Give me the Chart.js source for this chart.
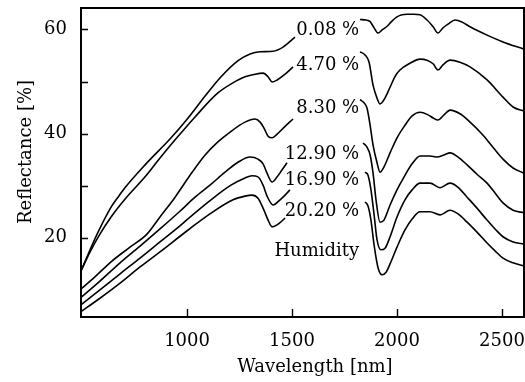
<!DOCTYPE html>
<html>
<head>
<meta charset="utf-8">
<style>
  html, body { margin: 0; padding: 0; background: #fff; }
  #wrap { width: 525px; height: 382px; }
</style>
<script src="https://cdn.jsdelivr.net/npm/chart.js@4.4.0/dist/chart.umd.min.js"></script>
</head>
<body>
<div id="wrap"><canvas id="c" width="525" height="382"></canvas></div>
<script>
// Soil reflectance spectra for six humidity levels.
// Each spectrum is split around the 1500-1820 nm water band (null = gap).
const humidityLevels = ['0.08 %', '4.70 %', '8.30 %', '12.90 %', '16.90 %', '20.20 %'];

const wl_0_08 = [490,538,576,638,671,704,800,924,1005,1086,1162,1243,1300,1348,1410,1457,1514,
  1670,
  1824,1852,1872,1891,1910,1929,1953,1976,2000,2024,2048,2081,2110,2143,2172,2195,2219,2243,2277,2310,2348,2429,2505,2605];
const refl_0_08 = [13.2,17.7,21.1,25.9,27.8,29.6,34.0,39.2,43.0,47.2,50.9,54.0,55.3,55.7,55.8,56.6,58.5,
  null,
  61.9,61.8,61.5,60.3,59.3,59.9,60.6,61.6,62.4,62.8,62.9,62.9,62.8,61.8,60.5,59.3,60.3,61.0,61.8,61.4,60.5,58.9,57.6,56.2];

const wl_4_70 = [490,538,585,638,704,800,871,943,1038,1147,1243,1276,1324,1362,1386,1405,1429,1467,1505,
  1670,
  1824,1848,1867,1886,1905,1919,1938,1967,1991,2014,2062,2110,2143,2172,2195,2219,2253,2300,2348,2429,2505,2553,2605];
const refl_4_70 = [13.2,17.3,20.7,24.0,27.4,31.7,35.3,38.8,43.2,47.8,50.3,50.9,51.4,51.6,50.9,49.9,50.3,51.4,52.8,
  null,
  55.7,55.1,53.7,49.3,46.8,45.7,46.5,48.9,51.0,52.2,53.5,54.3,54.1,53.4,52.2,53.2,54.1,53.7,52.8,50.3,47.0,45.1,44.3];

const wl_8_30 = [490,561,638,728,809,871,943,1014,1086,1147,1205,1276,1324,1348,1367,1386,1405,1429,1467,1505,
  1670,
  1824,1843,1857,1872,1886,1905,1919,1938,1967,2000,2038,2072,2110,2148,2172,2195,2224,2253,2300,2348,2410,2457,2505,2553,2605];
const refl_8_30 = [10.0,12.5,15.4,18.2,20.7,24.0,27.8,32.0,35.9,38.4,40.3,42.2,42.8,42.2,41.0,39.5,39.2,39.9,41.4,42.8,
  null,
  46.5,45.9,44.9,41.6,37.8,34.4,32.6,33.6,36.3,39.2,41.6,43.4,44.1,43.6,43.0,42.6,43.6,44.5,43.8,42.2,39.7,37.4,35.1,33.4,32.4];

const wl_12_90 = [490,585,681,776,871,966,1038,1109,1181,1243,1300,1338,1362,1381,1405,1429,1452,1476,
  1670,
  1838,1857,1872,1886,1900,1919,1938,1967,2000,2038,2072,2110,2157,2191,2224,2253,2291,2334,2381,2429,2467,2505,2553,2605];
const refl_12_90 = [8.4,11.7,15.2,18.4,21.7,25.1,27.8,30.1,32.6,34.5,35.5,35.1,34.2,32.4,30.7,31.7,33.0,34.4,
  null,
  38.2,37.4,35.9,32.4,27.3,23.0,23.4,26.3,29.2,32.0,34.2,35.7,35.7,35.5,35.9,36.3,35.5,34.0,32.2,30.5,28.6,26.7,25.3,24.8];

const wl_16_90 = [490,585,681,776,871,966,1038,1114,1209,1276,1309,1338,1362,1381,1410,1443,1467,1490,
  1670,
  1848,1862,1876,1891,1905,1924,1943,1967,2000,2038,2072,2110,2157,2205,2253,2291,2334,2381,2429,2467,2505,2553,2605];
const refl_16_90 = [7.0,10.0,13.1,16.1,19.2,22.3,24.8,27.3,30.1,31.5,31.9,31.7,30.1,28.0,26.3,27.3,28.2,29.2,
  null,
  32.6,32.0,29.2,24.4,19.6,17.7,18.0,20.2,24.0,27.3,29.2,30.5,30.5,29.6,30.5,29.7,27.8,25.7,23.4,21.7,20.2,19.2,18.8];

const wl_20_20 = [490,585,681,776,871,1005,1109,1219,1276,1309,1338,1362,1386,1405,1433,1467,
  1670,
  1848,1862,1876,1891,1910,1929,1948,1967,2000,2038,2072,2110,2157,2205,2253,2291,2334,2381,2429,2467,2505,2553,2605];
const refl_20_20 = [5.7,8.4,11.3,14.4,17.3,21.5,24.6,27.3,28.0,28.2,27.6,25.7,23.4,22.1,22.6,23.8,
  null,
  26.9,26.1,23.4,18.6,14.2,12.9,13.4,15.0,18.2,21.5,23.6,25.0,25.0,24.4,25.3,24.6,23.0,21.1,19.0,17.5,16.1,15.2,14.6];

const xTicks = [1000, 1500, 2000, 2500];
const yTicks = [20, 30, 40, 50, 60];
const yTickLabels = [20, 40, 60];

// Where the humidity labels sit (data units: wavelength of right edge, reflectance of baseline)
const labelAnchorWl = 1820;
const labelBaselineRefl = [58.9, 52.2, 43.9, 35.1, 30.1, 24.1];
const captionText = 'Humidity';
const captionBaselineRefl = 16.5;

const spectra = [
  [wl_0_08, refl_0_08], [wl_4_70, refl_4_70], [wl_8_30, refl_8_30],
  [wl_12_90, refl_12_90], [wl_16_90, refl_16_90], [wl_20_20, refl_20_20]
];

const FONT_FAMILY = '"DejaVu Serif", serif';
const FONT_SIZE = 18;
Chart.defaults.font.family = FONT_FAMILY;
Chart.defaults.font.size = FONT_SIZE;
Chart.defaults.color = '#000';

const datasets = spectra.map(([wl, r], i) => ({
  label: humidityLevels[i],
  data: wl.map((w, k) => ({ x: w, y: r[k] })),
  borderColor: '#000',
  borderWidth: 1.6,
  pointRadius: 0,
  fill: false,
  spanGaps: false,
  cubicInterpolationMode: 'monotone'
}));

// fixed axis boxes so the plot area is 80..524 x 7..317
function fixBox(size, prop) {
  return s => {
    s[prop] = size;
    s.paddingTop = 0; s.paddingBottom = 0; s.paddingLeft = 0; s.paddingRight = 0;
  };
}

const framePlugin = {
  id: 'frame',
  afterDraw(chart) {
    const { ctx, chartArea: a, scales: { x, y } } = chart;
    ctx.save();
    ctx.strokeStyle = '#000';
    ctx.fillStyle = '#000';

    // inward tick marks
    ctx.lineWidth = 1.4;
    ctx.beginPath();
    xTicks.forEach(v => {
      const px = Math.round(x.getPixelForValue(v)) + 0.5;
      ctx.moveTo(px, a.bottom);
      ctx.lineTo(px, a.bottom - 8);
    });
    yTicks.forEach(v => {
      const py = Math.round(y.getPixelForValue(v)) + 0.5;
      ctx.moveTo(a.left, py);
      ctx.lineTo(a.left + 8, py);
    });
    ctx.stroke();

    // plot frame
    ctx.lineWidth = 2;
    ctx.strokeRect(a.left + 1, a.top + 1, a.right - a.left - 1, a.bottom - a.top - 1);

    // humidity labels
    ctx.font = FONT_SIZE + 'px ' + FONT_FAMILY;
    ctx.textAlign = 'right';
    ctx.textBaseline = 'alphabetic';
    const lx = x.getPixelForValue(labelAnchorWl);
    humidityLevels.forEach((t, i) => {
      ctx.fillText(t, lx, y.getPixelForValue(labelBaselineRefl[i]));
    });
    ctx.fillText(captionText, lx, y.getPixelForValue(captionBaselineRefl));

    // axis titles
    ctx.textAlign = 'center';
    ctx.fillText('Wavelength [nm]', 315, 372);
    ctx.translate(31, 152);
    ctx.rotate(-Math.PI / 2);
    ctx.fillText('Reflectance [%]', 0, 0);
    ctx.restore();
  }
};

new Chart(document.getElementById('c'), {
  type: 'line',
  data: { datasets },
  options: {
    responsive: false,
    animation: false,
    devicePixelRatio: 1,
    layout: { padding: { top: 7, right: 1, left: 0, bottom: 0 } },
    plugins: { legend: { display: false }, tooltip: { enabled: false } },
    scales: {
      x: {
        type: 'linear',
        min: 490,
        max: 2605,
        grid: { display: false, drawTicks: false },
        border: { display: false },
        afterBuildTicks: s => { s.ticks = xTicks.map(v => ({ value: v })); },
        afterFit: fixBox(65, 'height'),
        ticks: { padding: 14, maxRotation: 0, autoSkip: false, callback: v => String(v) }
      },
      y: {
        type: 'linear',
        min: 4.8,
        max: 64.3,
        grid: { display: false, drawTicks: false },
        border: { display: false },
        afterBuildTicks: s => { s.ticks = yTicks.map(v => ({ value: v })); },
        afterFit: fixBox(80, 'width'),
        ticks: { padding: 13, autoSkip: false, callback: v => (yTickLabels.includes(v) ? String(v) : '') }
      }
    }
  },
  plugins: [framePlugin]
});
</script>
</body>
</html>
